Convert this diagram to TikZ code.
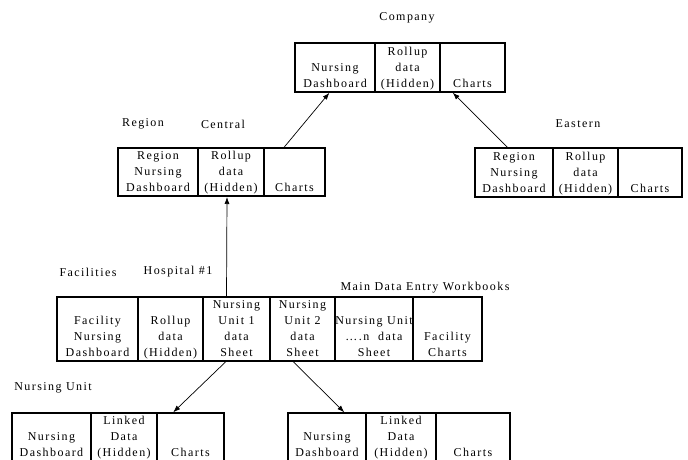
\documentclass[tikz,border=0pt]{standalone}
\usepackage{fontspec}
\setmainfont{Liberation Serif}[LetterSpace=12]
\usetikzlibrary{positioning, arrows.meta}

% bottom aligned text inside one sheet cell: [space below], width, height, text
\newcommand{\celltext}[4][0pt]{\parbox[c][#3][b]{#2}{\centering #4\strut\par\vspace{#1}}}

\begin{document}
\begin{tikzpicture}[x=1pt, y=-1pt,
    every node/.style = {font=\fontsize{12}{16}\selectfont},
    cell/.style  = {draw, line width=1.4pt, inner sep=0pt, outer sep=0pt},
    frame/.style = {draw, line width=2.4pt},
    link/.style  = {-{Latex[length=7pt, width=5pt]}, line width=0.7pt, shorten >=1pt}]
				\useasboundingbox (0,0) rectangle (688,460);
				
				% level labels
				\node (lcompany)    at (407,18)  {Company};
				\node (lregion)     at (143,124) {Region};
				\node (lcentral)    at (223,124) {Central};
				\node (leastern)    at (578,124) {Eastern};
				\node (lfacilities) at (88,272)  {Facilities};
				\node (lhospital)   at (178,272) {Hospital \#1};
				\node (lmain)       at (425,288) {Main Data Entry Workbooks};
				\node (lunit)       at (53,388)  {Nursing Unit};
				
				% company
				\node (co1) [cell, anchor=north west] at (295,43) {\celltext{80pt}{49pt}{Nursing\\Dashboard}};
				\node (co2) [cell, right = 0pt of co1]           {\celltext{65pt}{49pt}{Rollup\\data\\(Hidden)}};
				\node (co3) [cell, right = 0pt of co2]           {\celltext{65pt}{49pt}{Charts}};
				
				% central
				\node (ce1) [cell, anchor=north west] at (118,148) {\celltext{80pt}{48pt}{Region\\Nursing\\Dashboard}};
				\node (ce2) [cell, right = 0pt of ce1]            {\celltext{66pt}{48pt}{Rollup\\data\\(Hidden)}};
				\node (ce3) [cell, right = 0pt of ce2]            {\celltext{61pt}{48pt}{Charts}};
				
				% eastern
				\node (ea1) [cell, anchor=north west] at (475,148) {\celltext{78pt}{49pt}{Region\\Nursing\\Dashboard}};
				\node (ea2) [cell, right = 0pt of ea1]            {\celltext{65pt}{49pt}{Rollup\\data\\(Hidden)}};
				\node (ea3) [cell, right = 0pt of ea2]            {\celltext{64pt}{49pt}{Charts}};
				
				% hospital
				\node (fa1) [cell, anchor=north west] at (57,297) {\celltext{81pt}{64pt}{Facility\\Nursing\\Dashboard}};
				\node (fa2) [cell, right = 0pt of fa1]           {\celltext{65pt}{64pt}{Rollup\\data\\(Hidden)}};
				\node (fa3) [cell, right = 0pt of fa2]           {\celltext{67pt}{64pt}{Nursing\\Unit 1\\data\\Sheet}};
				\node (fa4) [cell, right = 0pt of fa3]           {\celltext{65pt}{64pt}{Nursing\\Unit 2\\data\\Sheet}};
				\node (fa5) [cell, right = 0pt of fa4]           {\celltext{78pt}{64pt}{Nursing~Unit\\….n~~data\\Sheet}};
				\node (fa6) [cell, right = 0pt of fa5]           {\celltext{69pt}{64pt}{Facility\\Charts}};
				
				% nursing units
				\node (nl1) [cell, anchor=north west] at (12,413) {\celltext[1pt]{79pt}{49pt}{Nursing\\Dashboard}};
				\node (nl2) [cell, right = 0pt of nl1]           {\celltext[1pt]{66pt}{49pt}{Linked\\Data\\(Hidden)}};
				\node (nl3) [cell, right = 0pt of nl2]           {\celltext[1pt]{67pt}{49pt}{Charts}};
				
				\node (nr1) [cell, anchor=north west] at (288,413) {\celltext[1pt]{78pt}{49pt}{Nursing\\Dashboard}};
				\node (nr2) [cell, right = 0pt of nr1]            {\celltext[1pt]{70pt}{49pt}{Linked\\Data\\(Hidden)}};
				\node (nr3) [cell, right = 0pt of nr2]            {\celltext[1pt]{74pt}{49pt}{Charts}};
				
				% outer frames
				\path[frame]
				(co1.north west) rectangle (co3.south east)
				(ce1.north west) rectangle (ce3.south east)
				(ea1.north west) rectangle (ea3.south east)
				(fa1.north west) rectangle (fa6.south east)
				(nl1.north west) rectangle (nl3.south east)
				(nr1.north west) rectangle (nr3.south east);
				
				% roll up and links
				\draw[link] ([xshift=-11pt]ce3.north) -- ([xshift=-5pt]co1.south);
				\draw[link] ([xshift=-6pt]ea1.north)  -- ([xshift=12pt]co3.south west);
				\draw[link] ([xshift=-10pt]fa3.north) -- ([xshift=-4pt]ce2.south);
				\draw[link] ([xshift=-10pt]fa3.south) -- ([xshift=-18pt]nl3.north);
				\draw[link] ([xshift=-10pt]fa4.south) -- ([xshift=18pt]nr1.north);
				
			\end{tikzpicture}
\end{document}
